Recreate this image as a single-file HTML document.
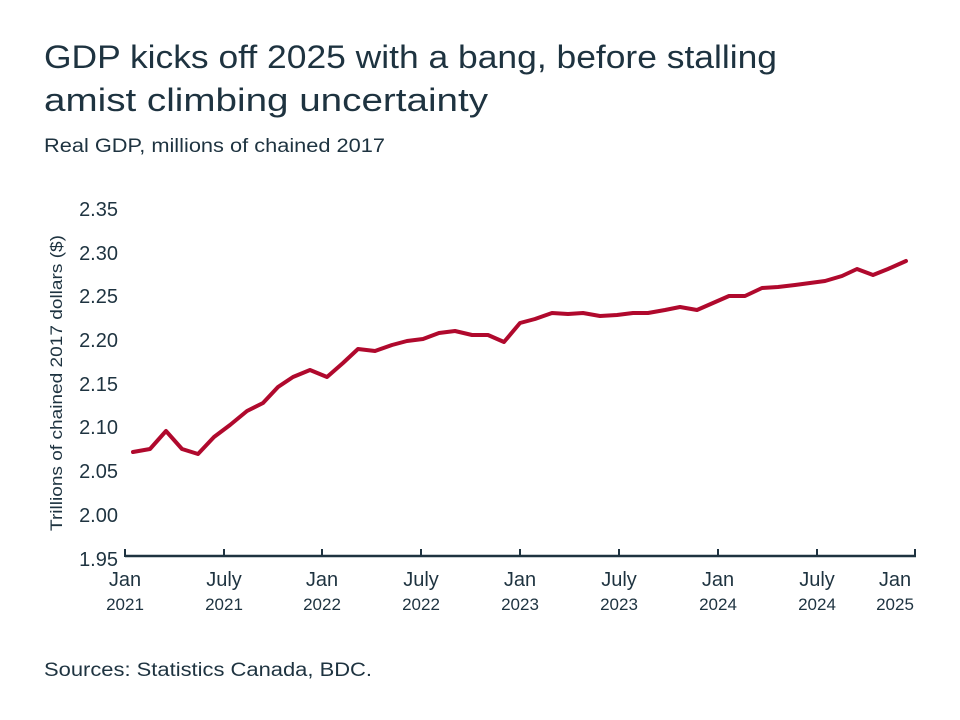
<!DOCTYPE html>
<html><head><meta charset="utf-8"><style>
body{margin:0;background:#fff;}
svg{display:block;font-family:"Liberation Sans",sans-serif;}
</style></head><body>
<svg width="960" height="720" viewBox="0 0 960 720">
<rect width="960" height="720" fill="#fff"/>
<text x="44" y="68" font-size="32" fill="#1e3340" textLength="733" lengthAdjust="spacingAndGlyphs">GDP kicks off 2025 with a bang, before stalling</text>
<text x="44" y="111" font-size="32" fill="#1e3340" textLength="444" lengthAdjust="spacingAndGlyphs">amist climbing uncertainty</text>
<text x="44" y="152" font-size="19" fill="#1e3340" textLength="341" lengthAdjust="spacingAndGlyphs">Real GDP, millions of chained 2017</text>
<g font-size="20" fill="#1e3340" text-anchor="end">
<text x="118" y="216">2.35</text><text x="118" y="260">2.30</text><text x="118" y="303">2.25</text>
<text x="118" y="347">2.20</text><text x="118" y="391">2.15</text><text x="118" y="434">2.10</text>
<text x="118" y="478">2.05</text><text x="118" y="522">2.00</text><text x="118" y="566">1.95</text>
</g>
<text transform="translate(62,383) rotate(-90)" font-size="17" fill="#1e3340" text-anchor="middle" textLength="296" lengthAdjust="spacingAndGlyphs">Trillions of chained 2017 dollars ($)</text>
<line x1="125" y1="556" x2="916" y2="556" stroke="#1e3340" stroke-width="2.5"/>
<g stroke="#1e3340" stroke-width="2">
<line x1="125" y1="549" x2="125" y2="557"/><line x1="224" y1="549" x2="224" y2="557"/><line x1="322" y1="549" x2="322" y2="557"/>
<line x1="421" y1="549" x2="421" y2="557"/><line x1="520" y1="549" x2="520" y2="557"/><line x1="619" y1="549" x2="619" y2="557"/>
<line x1="718" y1="549" x2="718" y2="557"/><line x1="817" y1="549" x2="817" y2="557"/><line x1="915" y1="549" x2="915" y2="557"/>
</g>
<g font-size="20" fill="#1e3340" text-anchor="middle">
<text x="125" y="586">Jan</text><text x="224" y="586">July</text><text x="322" y="586">Jan</text>
<text x="421" y="586">July</text><text x="520" y="586">Jan</text><text x="619" y="586">July</text>
<text x="718" y="586">Jan</text><text x="817" y="586">July</text><text x="895" y="586">Jan</text>
</g>
<g font-size="17" fill="#1e3340" text-anchor="middle">
<text x="125" y="610">2021</text><text x="224" y="610">2021</text><text x="322" y="610">2022</text>
<text x="421" y="610">2022</text><text x="520" y="610">2023</text><text x="619" y="610">2023</text>
<text x="718" y="610">2024</text><text x="817" y="610">2024</text><text x="895" y="610">2025</text>
</g>
<polyline fill="none" stroke="#b0092d" stroke-width="4" stroke-linejoin="round" stroke-linecap="round" points="133,452 150,449 166,431 182,449 198,454 214,437 230,425 247,411 263,403 278,387 293,377 310,370 327,377 343,363 358,349 375,351 392,345 407,341 423,339 439,333 455,331 472,335 488,335 504,342 520,323 535,319 552,313 568,314 583,313 600,316 617,315 633,313 648,313 665,310 680,307 697,310 713,303 729,296 745,296 762,288 778,287 795,285 810,283 825,281 842,276 857,269 873,275 888,269 906,261"/>
<text x="44" y="676" font-size="19" fill="#1e3340" textLength="328" lengthAdjust="spacingAndGlyphs">Sources: Statistics Canada, BDC.</text>
</svg>
</body></html>
